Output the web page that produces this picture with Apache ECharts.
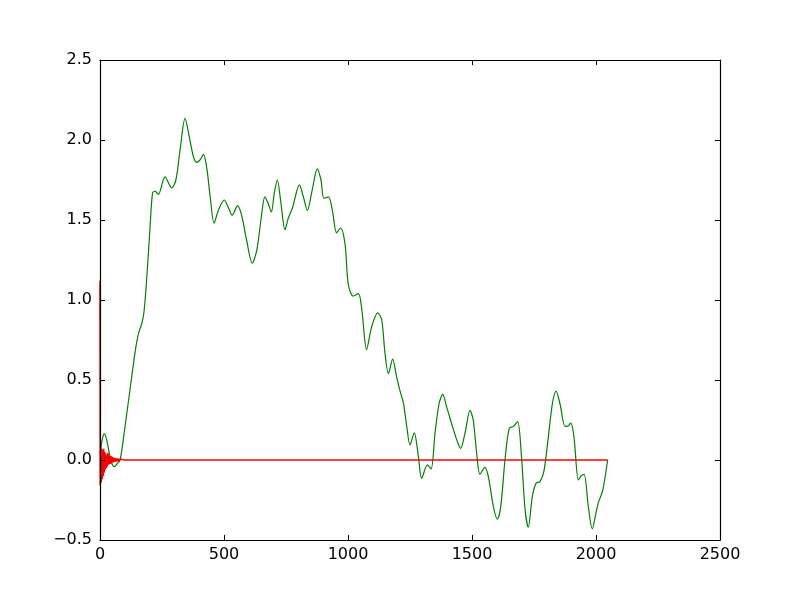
<!DOCTYPE html>
<html>
<head>
<meta charset="utf-8">
<script src="https://cdn.jsdelivr.net/npm/echarts@6/dist/echarts.min.js"></script>
<style>
  html, body { margin: 0; padding: 0; background: #fff; }
  #chart { width: 800px; height: 600px; }
</style>
</head>
<body>
<div id="chart"></div>
<script>
// green trace (x, y)
const greenX = [0, 8, 17, 28, 40, 50, 58, 68, 81, 101, 121, 141, 155, 168, 177, 188, 202, 212, 222, 235,
  262, 289, 306, 323, 343, 360, 376, 390, 403, 417, 430, 444, 460, 477, 501, 517, 533, 555, 571, 591,
  614, 632, 649, 665, 679, 691, 703, 715, 728, 746, 759, 777, 804, 820, 836, 856, 876, 891, 903, 921,
  937, 954, 970, 988, 1001, 1021, 1042, 1055, 1075, 1095, 1120, 1136, 1149, 1163, 1180, 1196, 1210, 1223, 1237, 1250,
  1267, 1284, 1297, 1320, 1335, 1351, 1367, 1382, 1398, 1425, 1441, 1454, 1472, 1492, 1505, 1519, 1532, 1552, 1566, 1586,
  1602, 1616, 1633, 1650, 1667, 1684, 1700, 1714, 1727, 1743, 1758, 1774, 1790, 1808, 1824, 1839, 1855, 1875, 1884, 1898,
  1911, 1929, 1940, 1952, 1969, 1985, 2000, 2009, 2027, 2047];
const greenY = [0.04, 0.12, 0.165, 0.12, 0.02, -0.03, -0.042, -0.025, 0.0, 0.21, 0.44, 0.67, 0.79, 0.85, 0.92, 1.125, 1.46, 1.67, 1.68, 1.66,
  1.77, 1.70, 1.75, 1.94, 2.135, 2.02, 1.90, 1.86, 1.875, 1.91, 1.83, 1.65, 1.48, 1.56, 1.625, 1.58, 1.53, 1.59, 1.53, 1.375,
  1.23, 1.31, 1.50, 1.645, 1.60, 1.55, 1.67, 1.75, 1.625, 1.44, 1.51, 1.58, 1.72, 1.645, 1.56, 1.69, 1.82, 1.75, 1.635, 1.645,
  1.56, 1.42, 1.45, 1.35, 1.10, 1.025, 1.04, 0.95, 0.69, 0.83, 0.92, 0.875, 0.67, 0.54, 0.63, 0.52, 0.43, 0.36, 0.21, 0.094,
  0.17, 0.02, -0.115, -0.03, -0.056, 0.17, 0.35, 0.41, 0.33, 0.19, 0.115, 0.073, 0.17, 0.31, 0.25, 0.04, -0.09, -0.046, -0.104, -0.29,
  -0.37, -0.29, 0, 0.198, 0.21, 0.24, 0.01, -0.31, -0.42, -0.23, -0.146, -0.135, -0.07, 0.146, 0.35, 0.43, 0.35, 0.21, 0.21, 0.23,
  0.146, -0.125, -0.10, -0.09, -0.29, -0.43, -0.33, -0.27, -0.19, 0];

// red trace: decaying ringing near the start, then flat
const redX = [0, 1, 3, 5, 7, 9, 11, 13, 15, 17, 19, 21, 23, 25, 27, 29, 32, 35, 38, 41,
  44, 47, 50, 53, 56, 60, 64, 68, 72, 76, 80, 85, 90, 95, 100, 2047];
const redY = [1.12, -0.16, 0.08, -0.14, 0.07, -0.12, 0.06, -0.10, 0.07, -0.08, 0.05, -0.06, 0.04, -0.05, 0.03, -0.04, 0.045, -0.03, 0.03, -0.025,
  0.025, -0.02, 0.02, -0.015, 0.015, -0.012, 0.012, -0.01, 0.01, -0.008, 0.006, -0.004, 0.003, -0.002, 0, 0];

const xTicks = { min: 0, max: 2500, interval: 500 };
const yTicks = { min: -0.5, max: 2.5, interval: 0.5 };

const font = 'DejaVu Sans';
const minus = s => String(s).replace('-', '\u2212');

const chart = echarts.init(document.getElementById('chart'), null, { renderer: 'canvas' });

// axes sit above the series so the frame hides the spike at x = 0
const axisBase = {
  type: 'value',
  z: 10,
  splitLine: { show: false },
  axisLine: { show: true, onZero: false, lineStyle: { color: '#000', width: 1.2 } },
  axisTick: { show: true, inside: true, length: 5, lineStyle: { color: '#000' } }
};

chart.setOption({
  animation: false,
  backgroundColor: '#fff',
  grid: { left: 100, right: 80, top: 60, bottom: 60, containLabel: false },
  xAxis: [
    Object.assign({}, axisBase, xTicks, {
      position: 'bottom',
      axisLabel: { color: '#000', fontFamily: font, fontSize: 16, margin: 7, formatter: v => minus(v) }
    }),
    Object.assign({}, axisBase, xTicks, { position: 'top', axisLabel: { show: false } })
  ],
  yAxis: [
    Object.assign({}, axisBase, yTicks, {
      position: 'left',
      axisLabel: { color: '#000', fontFamily: font, fontSize: 16, margin: 8, formatter: v => minus(v.toFixed(1)) }
    }),
    Object.assign({}, axisBase, yTicks, { position: 'right', axisLabel: { show: false } })
  ],
  series: [
    {
      type: 'line',
      data: greenX.map((x, i) => [x, greenY[i]]),
      showSymbol: false,
      smooth: 0.3,
      lineStyle: { color: '#008000', width: 1.2 },
      z: 2
    },
    {
      type: 'line',
      data: redX.map((x, i) => [x, redY[i]]),
      showSymbol: false,
      lineStyle: { color: '#ff0000', width: 1.6 },
      z: 3
    }
  ]
});
</script>
</body>
</html>
